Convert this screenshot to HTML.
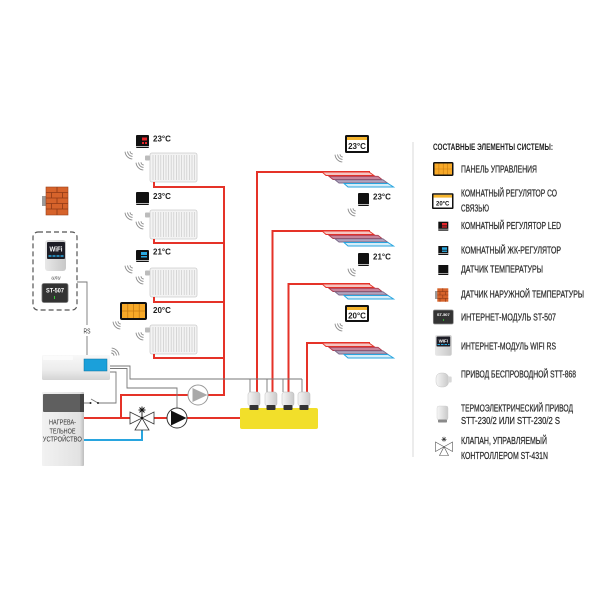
<!DOCTYPE html>
<html><head><meta charset="utf-8"><style>
html,body{margin:0;padding:0;background:#fff;}
svg{display:block;}
.t{font-family:"Liberation Sans Narrow","Liberation Sans","DejaVu Sans Condensed",sans-serif;fill:#2b2b2b;font-size:10px;stroke:#2b2b2b;stroke-width:0.25px;}
.tb{font-family:"Liberation Sans Narrow","Liberation Sans",sans-serif;fill:#1e1e1e;font-size:9.5px;font-weight:bold;}
.b{font-family:"Liberation Sans",sans-serif;font-weight:bold;fill:#1e1e1e;font-size:8px;}
.s{font-family:"Liberation Sans",sans-serif;fill:#333;font-size:7px;}
</style></head><body>
<svg width="600" height="600" viewBox="0 0 600 600" xmlns="http://www.w3.org/2000/svg">
<defs>
<linearGradient id="act" x1="0" y1="0" x2="1" y2="0"><stop offset="0" stop-color="#f6f6f6"/><stop offset="1" stop-color="#c9c9c9"/></linearGradient>
<linearGradient id="ctrl" x1="0" y1="0" x2="0" y2="1"><stop offset="0" stop-color="#f8f8f8"/><stop offset="0.6" stop-color="#ececec"/><stop offset="1" stop-color="#d4d4d4"/></linearGradient>
<linearGradient id="boil" x1="0" y1="0" x2="1" y2="0"><stop offset="0" stop-color="#f2f2f2"/><stop offset="0.9" stop-color="#e2e2e2"/><stop offset="1" stop-color="#bdbdbd"/></linearGradient>
<linearGradient id="wifi" x1="0" y1="0" x2="1" y2="0"><stop offset="0" stop-color="#e8e8e8"/><stop offset="1" stop-color="#c8c8c8"/></linearGradient>
<g id="rad">
<rect x="150" y="153" width="47" height="29" rx="2" fill="#f3f3f3" stroke="#cdcdcd" stroke-width="0.8"/>
<path d="M153 155V180M155.6 155V180M158.2 155V180M160.8 155V180M163.4 155V180M166 155V180M168.6 155V180M171.2 155V180M173.8 155V180M176.4 155V180M179 155V180M181.6 155V180M184.2 155V180M186.8 155V180M189.4 155V180M192 155V180M194.6 155V180" stroke="#cbcbcb" stroke-width="0.7"/>
<rect x="145" y="155.5" width="5" height="5" rx="1" fill="#bcbcbc"/>
</g>
<path id="w" d="M-0.26 2.99A3 3 0 0 1 -2.99 0.26M-0.48 5.48A5.5 5.5 0 0 1 -5.48 0.48M-0.7 7.97A8 8 0 0 1 -7.97 0.7" fill="none" stroke="#8a8a8a" stroke-width="0.9"/>
<g id="bands">
<polygon points="322,172 369,172 374,175.5 326,175.5" fill="#f5c6c2" stroke="#e53228" stroke-width="0.9"/>
<polygon points="329,176.3 378,176.3 382,179.5 333,179.5" fill="#c7849a" stroke="#b03a4c" stroke-width="0.9"/>
<polygon points="335,179.8 383,179.8 387.5,183 339,183" fill="#b3a3bc" stroke="#7a6a8a" stroke-width="0.9"/>
<polygon points="344,183.5 388,183.5 393.5,187 348,187" fill="#d6edf8" stroke="#28a5df" stroke-width="1"/>
</g>
</defs>
<rect width="600" height="600" fill="#fff"/>

<line x1="413" y1="142" x2="413" y2="457" stroke="#cfcfcf" stroke-width="0.8"/>

<use href="#rad"/>
<use href="#rad" y="57"/>
<use href="#rad" y="115"/>
<use href="#rad" y="172"/>

<g fill="none" stroke="#e53228" stroke-width="2">
<path d="M154 182V187H224M154 239V243H224M154 297V302H224M154 354V358H224M224 186V395H208M188 395H121V418"/>
<path d="M83 418H130M154 418H167M187 418H240"/>
<path d="M257 392V172H370M272.5 392V231H370M288.5 392V284H370M307 392V343H370"/>
</g>
<use href="#bands"/>
<use href="#bands" y="59"/>
<use href="#bands" y="112"/>
<use href="#bands" y="171"/>

<path d="M142 430V440H83" fill="none" stroke="#28a5df" stroke-width="2"/>

<g fill="none" stroke="#777" stroke-width="0.9">
<path d="M110 366H130V379H302M250 379V392M267 379V392M283 379V392M302 379V392"/>
<path d="M110 368.5H127V388H177V408"/>
<path d="M110 372H116V403H98M83 403H90.5M91 399L98 403"/>
<path d="M77 282H87V355"/>
</g>
<circle cx="90.5" cy="403" r="1" fill="#222"/>
<circle cx="98" cy="403" r="1" fill="#222"/>

<rect x="82" y="325" width="10" height="11" fill="#fff"/>
<text class="s" x="83.5" y="333.5" textLength="7" lengthAdjust="spacingAndGlyphs" font-size="8">RS</text>

<rect x="136" y="135" width="13" height="13" rx="1" fill="#111"/>
<rect x="142" y="137.5" width="5" height="3" fill="#e4262b"/>
<rect x="142" y="142" width="2" height="2" fill="#e4262b"/><rect x="145" y="142" width="2" height="2" fill="#e4262b"/>
<rect x="136" y="146" width="13" height="1" fill="#bbb"/>
<text class="b" x="153" y="141.5">23°C</text>

<rect x="136" y="192" width="13" height="13" rx="1" fill="#111"/>
<rect x="136" y="203" width="13" height="0.9" fill="#ccc"/>
<text class="b" x="153" y="199">23°C</text>

<rect x="136" y="250" width="13" height="12" rx="1" fill="#111"/>
<rect x="141" y="252" width="6" height="3" fill="#29a8e0"/>
<rect x="141" y="256" width="6" height="1.5" fill="#29a8e0"/>
<rect x="136" y="260" width="13" height="1" fill="#bbb"/>
<text class="b" x="153" y="254.5">21°C</text>

<rect x="120" y="302" width="27" height="18" rx="2" fill="#111"/>
<rect x="122" y="304" width="23" height="14" fill="#f7a928"/>
<path d="M127.75 304V318M133.5 304V318M139.25 304V318M122 311H145" stroke="#c97d12" stroke-width="0.8"/>
<text class="b" x="153" y="313">20°C</text>

<use href="#w" transform="translate(133,151)"/>
<use href="#w" transform="translate(144,162)"/>
<use href="#w" transform="translate(133,212)"/>
<use href="#w" transform="translate(144,221)"/>
<use href="#w" transform="translate(133,265)"/>
<use href="#w" transform="translate(144,276)"/>
<use href="#w" transform="translate(121,321)"/>
<use href="#w" transform="translate(144,332)"/>
<use href="#w" transform="translate(111,356) rotate(180)"/>
<use href="#w" transform="translate(343,154)"/>
<use href="#w" transform="translate(356,208)"/>
<use href="#w" transform="translate(356,268)"/>
<use href="#w" transform="translate(343,323)"/>

<rect x="345" y="135" width="24" height="18" rx="1.5" fill="#111"/>
<rect x="347" y="137" width="20" height="14" fill="#fff"/>
<rect x="347" y="137" width="20" height="3" fill="#f5b52e"/>
<text class="b" x="357" y="148.8" text-anchor="middle" font-size="7">23°C</text>

<rect x="358" y="193" width="11" height="13" rx="1" fill="#111"/>
<rect x="358" y="204" width="11" height="0.9" fill="#ccc"/>
<text class="b" x="373" y="199.5">23°C</text>

<rect x="358" y="253" width="11" height="13" rx="1" fill="#111"/>
<rect x="358" y="264" width="11" height="0.9" fill="#ccc"/>
<text class="b" x="373" y="259.5">21°C</text>

<rect x="345" y="305" width="24" height="17" rx="1.5" fill="#111"/>
<rect x="347" y="307" width="20" height="13" fill="#fff"/>
<rect x="347" y="307" width="20" height="3" fill="#f5b52e"/>
<text class="b" x="357" y="318.3" text-anchor="middle" font-size="7">20°C</text>

<rect x="240" y="408" width="78" height="21" rx="2" fill="#f2df2a"/>
<g>
<rect x="248" y="392" width="12" height="14" rx="2.5" fill="url(#act)" stroke="#bbb" stroke-width="0.5"/>
<rect x="249.5" y="405" width="9" height="5" rx="1" fill="#333"/>
<rect x="265" y="392" width="12" height="14" rx="2.5" fill="url(#act)" stroke="#bbb" stroke-width="0.5"/>
<rect x="266.5" y="405" width="9" height="5" rx="1" fill="#333"/>
<rect x="282" y="392" width="12" height="14" rx="2.5" fill="url(#act)" stroke="#bbb" stroke-width="0.5"/>
<rect x="283.5" y="405" width="9" height="5" rx="1" fill="#333"/>
<rect x="298" y="392" width="12" height="14" rx="2.5" fill="url(#act)" stroke="#bbb" stroke-width="0.5"/>
<rect x="299.5" y="405" width="9" height="5" rx="1" fill="#333"/>
</g>

<circle cx="198" cy="395" r="10" fill="#fff" stroke="#9a9a9a" stroke-width="1"/>
<polygon points="192.5,388 192.5,402 207.5,395" fill="#a9a9a9"/>
<circle cx="177" cy="418" r="10" fill="#fff" stroke="#333" stroke-width="1"/>
<polygon points="171,410.5 171,425.5 186.5,418" fill="#111"/>

<g stroke="#333" stroke-width="0.8" fill="#fff">
<polygon points="130,412 130,424 142,418"/>
<polygon points="154,412 154,424 142,418"/>
<polygon points="135,430 149,430 142,418"/>
</g>
<circle cx="142" cy="418" r="1.2" fill="#111"/>
<path d="M142 418V413M142 406.5V413.5M138.5 410H145.5M139.5 407.5L144.5 412.5M144.5 407.5L139.5 412.5" stroke="#111" stroke-width="0.9"/>

<rect x="42" y="355" width="68" height="25" rx="1.5" fill="url(#ctrl)"/>
<rect x="43" y="356" width="30" height="4" rx="1" fill="#fbfbfb"/>
<rect x="84" y="359" width="23" height="12" fill="#1ba0da" stroke="#0b6f9c" stroke-width="0.5"/>

<rect x="42" y="392" width="42" height="74" rx="1" fill="url(#boil)"/>
<rect x="43" y="394" width="38" height="18" rx="1" fill="#5f5f5f"/>
<rect x="80" y="394" width="4" height="18" fill="#444"/>
<text class="s" x="62.5" y="424.3" text-anchor="middle" textLength="27" lengthAdjust="spacingAndGlyphs">НАГРЕВА-</text>
<text class="s" x="62.5" y="433.3" text-anchor="middle" textLength="26" lengthAdjust="spacingAndGlyphs">ТЕЛЬНОЕ</text>
<text class="s" x="62.3" y="441.7" text-anchor="middle" textLength="39" lengthAdjust="spacingAndGlyphs">УСТРОЙСТВО</text>

<rect x="42" y="196" width="5" height="10" fill="#9a9a9a"/>
<rect x="46" y="187" width="22" height="28" fill="#d6632b" stroke="#9a4119" stroke-width="0.6"/>
<path d="M46 192.5H68M46 198H68M46 203.5H68M46 209H68M57 187V192.5M51.5 192.5V198M62.5 192.5V198M57 198V203.5M51.5 203.5V209M62.5 203.5V209M57 209V215" stroke="#8e3a17" stroke-width="0.8"/>

<rect x="33" y="232" width="44" height="78" rx="5" fill="none" stroke="#555" stroke-width="1.2" stroke-dasharray="5,3"/>
<rect x="45" y="240" width="21" height="31" rx="3" fill="url(#wifi)"/>
<rect x="47" y="242" width="18" height="17" rx="1" fill="#1d1d26"/>
<text x="56" y="251.5" text-anchor="middle" font-family="Liberation Sans, sans-serif" font-weight="bold" font-size="7" fill="#fff" textLength="13" lengthAdjust="spacingAndGlyphs">WiFi</text>
<path d="M48.5 256H51.5M52.5 256H55.5M56.5 256H59.5M60.5 256H63.5" stroke="#29a8e0" stroke-width="1.6"/>
<text x="56" y="279.5" text-anchor="middle" font-family="Liberation Sans, sans-serif" font-style="italic" font-size="5.5" fill="#444">или</text>
<rect x="42" y="283.5" width="26" height="19" rx="2" fill="#333" stroke="#777" stroke-width="0.8"/>
<text x="55" y="292.5" text-anchor="middle" font-family="Liberation Sans, sans-serif" font-weight="bold" font-size="6" fill="#fff" textLength="18" lengthAdjust="spacingAndGlyphs">ST-507</text>
<rect x="54" y="296" width="1" height="3" fill="#3c3"/>

<text class="tb" x="433" y="150" textLength="120" lengthAdjust="spacingAndGlyphs">СОСТАВНЫЕ ЭЛЕМЕНТЫ СИСТЕМЫ:</text>

<rect x="433" y="162" width="20.5" height="14" rx="1.5" fill="#111"/>
<rect x="434.5" y="163.5" width="17.5" height="11" fill="#f7a928"/>
<path d="M438.9 163.5V174.5M443.25 163.5V174.5M447.6 163.5V174.5M434.5 169H452" stroke="#c97d12" stroke-width="0.6"/>
<text class="t" x="461" y="172.5" textLength="76" lengthAdjust="spacingAndGlyphs">ПАНЕЛЬ УПРАВЛЕНИЯ</text>

<rect x="432" y="193.3" width="21.5" height="15.7" rx="1" fill="#111"/>
<rect x="433.5" y="194.8" width="18.5" height="12.7" fill="#fff"/>
<rect x="433.5" y="194.8" width="18.5" height="2.8" fill="#f5b52e"/>
<text x="442.7" y="205.5" text-anchor="middle" font-family="Liberation Sans, sans-serif" font-weight="bold" font-size="6" fill="#111">20°C</text>
<text class="t" x="461" y="196.7" textLength="96" lengthAdjust="spacingAndGlyphs">КОМНАТНЫЙ РЕГУЛЯТОР СО</text>
<text class="t" x="461" y="211.7" textLength="28" lengthAdjust="spacingAndGlyphs">СВЯЗЬЮ</text>

<rect x="438.3" y="221.7" width="10" height="9" fill="#111"/>
<rect x="442" y="223" width="5" height="2.5" fill="#e4262b"/>
<rect x="442" y="226.3" width="5" height="1.3" fill="#e4262b"/>
<rect x="438.3" y="228.8" width="10" height="0.7" fill="#ddd"/>
<text class="t" x="461" y="229" textLength="100" lengthAdjust="spacingAndGlyphs">КОМНАТНЫЙ РЕГУЛЯТОР LED</text>

<rect x="438.3" y="246" width="10" height="9" fill="#111"/>
<rect x="442" y="247.3" width="5" height="2.5" fill="#29a8e0"/>
<rect x="442" y="250.6" width="5" height="1.3" fill="#29a8e0"/>
<rect x="438.3" y="253.1" width="10" height="0.7" fill="#ddd"/>
<text class="t" x="461" y="253.3" textLength="100" lengthAdjust="spacingAndGlyphs">КОМНАТНЫЙ ЖК-РЕГУЛЯТОР</text>

<rect x="438.3" y="265" width="10" height="10" fill="#111"/>
<rect x="438.3" y="273" width="10" height="0.7" fill="#ddd"/>
<text class="t" x="461" y="272.7" textLength="82" lengthAdjust="spacingAndGlyphs">ДАТЧИК ТЕМПЕРАТУРЫ</text>

<rect x="435" y="291" width="2.5" height="8" fill="#9a9a9a"/>
<rect x="437.3" y="288.3" width="11" height="13.4" fill="#d6632b"/>
<path d="M437.3 291.7H448.3M437.3 295H448.3M437.3 298.3H448.3M442.8 288.3V291.7M440 291.7V295M445.5 291.7V295M442.8 295V298.3M440 298.3V301.7M445.5 298.3V301.7" stroke="#8e3a17" stroke-width="0.6"/>
<text class="t" x="461" y="297.7" textLength="123" lengthAdjust="spacingAndGlyphs">ДАТЧИК НАРУЖНОЙ ТЕМПЕРАТУРЫ</text>

<rect x="433.3" y="310" width="20" height="14" rx="1.5" fill="#333" stroke="#888" stroke-width="0.7"/>
<text x="443.3" y="316" text-anchor="middle" font-family="Liberation Sans, sans-serif" font-weight="bold" font-size="4" fill="#fff">ST-507</text>
<rect x="443" y="319" width="0.8" height="2" fill="#3c3"/>
<text class="t" x="461" y="320.5" textLength="95" lengthAdjust="spacingAndGlyphs">ИНТЕРНЕТ-МОДУЛЬ ST-507</text>

<rect x="435" y="335" width="16.7" height="20.7" rx="2" fill="url(#wifi)"/>
<rect x="436.5" y="336.5" width="13.7" height="10" rx="0.8" fill="#1d1d26"/>
<text x="443.3" y="342.5" text-anchor="middle" font-family="Liberation Sans, sans-serif" font-weight="bold" font-size="4.5" fill="#fff">WiFi</text>
<path d="M437.5 344.5H440M441 344.5H443.5M444.5 344.5H447M448 344.5H449.5" stroke="#29a8e0" stroke-width="1"/>
<text class="t" x="461" y="349.3" textLength="95" lengthAdjust="spacingAndGlyphs">ИНТЕРНЕТ-МОДУЛЬ WIFI RS</text>

<rect x="436" y="373" width="12.5" height="14" rx="5" fill="url(#act)" stroke="#bbb" stroke-width="0.4"/>
<rect x="448" y="376.5" width="3.7" height="6" rx="1" fill="#d8d8d8"/>
<text class="t" x="461" y="377.3" textLength="115" lengthAdjust="spacingAndGlyphs">ПРИВОД БЕСПРОВОДНОЙ STT-868</text>

<rect x="437" y="406" width="11" height="14" rx="2" fill="url(#act)" stroke="#ccc" stroke-width="0.4"/>
<rect x="438" y="419.5" width="9" height="3" rx="0.8" fill="#8a8a8a"/>
<text class="t" x="461" y="411.7" textLength="112" lengthAdjust="spacingAndGlyphs">ТЕРМОЭЛЕКТРИЧЕСКИЙ ПРИВОД</text>
<text class="t" x="461" y="424" textLength="99" lengthAdjust="spacingAndGlyphs">STT-230/2 ИЛИ STT-230/2 S</text>

<g stroke="#555" stroke-width="0.6" fill="#fff">
<polygon points="435.5,442 435.5,451.5 444,446.7"/>
<polygon points="452.5,442 452.5,451.5 444,446.7"/>
<polygon points="439.5,455.5 448.5,455.5 444,446.7"/>
</g>
<path d="M444 436.8V441.8M441.5 439.3H446.5M442.2 437.5L445.8 441.1M445.8 437.5L442.2 441.1" stroke="#333" stroke-width="0.6"/>
<text class="t" x="461" y="444" textLength="86" lengthAdjust="spacingAndGlyphs">КЛАПАН, УПРАВЛЯЕМЫЙ</text>
<text class="t" x="461" y="459" textLength="87" lengthAdjust="spacingAndGlyphs">КОНТРОЛЛЕРОМ ST-431N</text>
</svg>
</body></html>
